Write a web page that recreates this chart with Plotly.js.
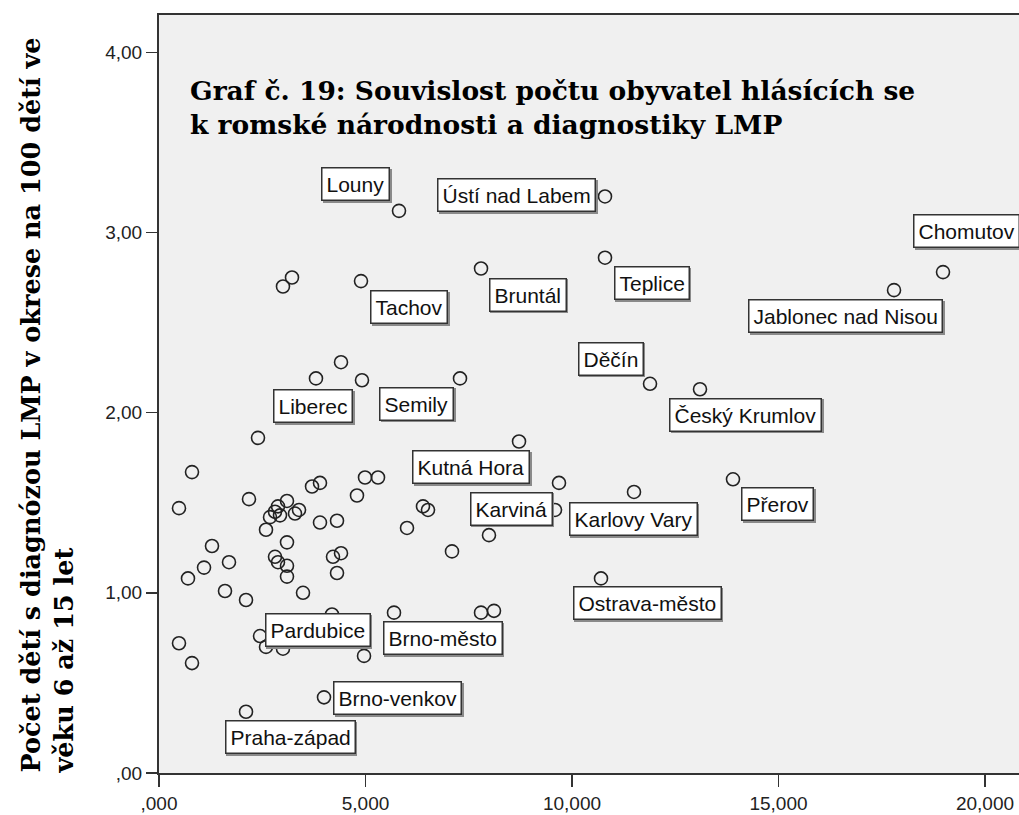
<!DOCTYPE html>
<html>
<head>
<meta charset="utf-8">
<script src="https://cdn.plot.ly/plotly-3.0.1.min.js"></script>
<style>html,body{margin:0;padding:0;background:#fff;}#chart{width:1019px;height:815px;}</style>
</head>
<body>
<div id="chart"></div>
<script>
// ---------- DATA ----------
const romaPer1000 = [5.811,10.799,18.983,17.797,10.799,7.797,4.891,3.002,3.220,11.889,13.099,7.288,4.407,3.801,4.915,2.397,8.717,13.898,11.501,9.685,9.588,5.303,4.988,4.794,3.705,3.898,0.799,0.484,2.179,3.099,2.881,2.809,2.688,2.930,3.293,3.390,2.591,3.898,4.310,6.005,6.392,6.513,7.990,7.094,1.283,1.695,1.090,0.702,3.099,2.809,2.881,3.099,3.099,4.213,4.407,4.310,1.598,2.107,3.487,10.702,5.690,7.797,8.111,4.189,2.446,2.591,3.002,4.964,0.484,0.799,3.995,2.107];
const lmpPer100 = [3.12,3.20,2.78,2.68,2.86,2.80,2.73,2.70,2.75,2.16,2.13,2.19,2.28,2.19,2.18,1.86,1.84,1.63,1.56,1.61,1.46,1.64,1.64,1.54,1.59,1.61,1.67,1.47,1.52,1.51,1.48,1.45,1.42,1.43,1.44,1.46,1.35,1.39,1.40,1.36,1.48,1.46,1.32,1.23,1.26,1.17,1.14,1.08,1.28,1.20,1.17,1.15,1.09,1.20,1.22,1.11,1.01,0.96,1.00,1.08,0.89,0.89,0.90,0.88,0.76,0.70,0.69,0.65,0.72,0.61,0.42,0.34];
const districtLabels = ["Louny","Ústí nad Labem","Chomutov","Jablonec nad Nisou","Teplice","Bruntál","Tachov","","","Děčín","Český Krumlov","Semily","","","Liberec","","Kutná Hora","Přerov","Karlovy Vary","","Karviná","","","","","","","","","","","","","","","","","","","","","","","","","","","","","","","","","","","","","","","Ostrava-město","Brno-město","","","","","","","Pardubice","","","Brno-venkov","Praha-západ"];
const xTickVals = [0,5,10,15,20];
const xTickText = [",000","5,000","10,000","15,000","20,000"];
const yTickVals = [0,1,2,3,4];
const yTickText = [",00","1,00","2,00","3,00","4,00"];
const chartTitle = "Graf č. 19: Souvislost počtu obyvatel hlásících se<br>k romské národnosti a diagnostiky LMP";
const yTitle = "Počet dětí s diagnózou LMP v okrese na 100 dětí ve<br>věku 6 až 15 let";

// ---------- LABEL PLACEMENT (pixel offsets from each point) ----------
const labelPlacement = {
  "Louny":["center",-43.5,26.5],
  "Ústí nad Labem":["right",-9,1],
  "Chomutov":["center",23.5,41],
  "Jablonec nad Nisou":["center",-48.5,-26],
  "Teplice":["center",46.5,-25.5],
  "Bruntál":["center",46.5,-26],
  "Tachov":["center",48,-26],
  "Děčín":["center",-39.5,25],
  "Český Krumlov":["center",45.5,-25.5],
  "Semily":["center",-43.5,-25.5],
  "Liberec":["center",-48.5,-26],
  "Kutná Hora":["center",-48,-26],
  "Karviná":["right",-2,1],
  "Karlovy Vary":["center",-1,-27.5],
  "Přerov":["center",45,-25],
  "Ostrava-město":["center",46,-25],
  "Brno-město":["center",48.5,-25.5],
  "Pardubice":["center",-46.5,25.5],
  "Brno-venkov":["left",9,-1],
  "Praha-západ":["center",44,-25.5]
};

const labelFont = {family:"Liberation Sans, Arial, sans-serif", size:21, color:"#111"};
const annotations = [];
districtLabels.forEach((name,i)=>{
  if(!name) return;
  const p = labelPlacement[name];
  // soft drop shadow
  annotations.push({
    x: romaPer1000[i], y: lmpPer100[i], xref:'x', yref:'y',
    text: name, showarrow:false, font: Object.assign({}, labelFont, {color:'rgba(0,0,0,0)'}),
    xanchor: p[0], yanchor:'middle', xshift: p[1]+1.5, yshift: p[2]-1.5,
    bgcolor:'#8a8a8a', bordercolor:'#8a8a8a', borderwidth:1.5, borderpad:4
  });
  annotations.push({
    x: romaPer1000[i], y: lmpPer100[i], xref:'x', yref:'y',
    text: name, showarrow:false, font: labelFont,
    xanchor: p[0], yanchor:'middle', xshift: p[1], yshift: p[2],
    bgcolor:'#ffffff', bordercolor:'#333333', borderwidth:1.5, borderpad:4
  });
});
annotations.push({
  xref:'paper', yref:'paper', x:0.034, y:0.924, xanchor:'left', yanchor:'top',
  text: chartTitle, showarrow:false, align:'left',
  font:{family:"DejaVu Serif, serif", size:26.5, color:"#000", weight:'bold'}
});
annotations.push({
  xref:'paper', yref:'paper', x:-0.13, y:-0.003, xanchor:'center', yanchor:'bottom',
  text: yTitle, showarrow:false, align:'left', textangle:-90,
  font:{family:"DejaVu Serif, serif", size:25.5, color:"#000", weight:'bold'}
});

const trace = {
  type:'scatter', mode:'markers', x: romaPer1000, y: lmpPer100,
  marker:{symbol:'circle-open', size:13, color:'#222', line:{width:1.6, color:'#222'}},
  hoverinfo:'skip', showlegend:false
};

const tickFont = {family:"Liberation Sans, Arial, sans-serif", size:19, color:"#222"};
const layout = {
  width:1019, height:815,
  margin:{l:159, r:0, t:15, b:42},
  paper_bgcolor:'#ffffff', plot_bgcolor:'#f0f0f0',
  xaxis:{range:[0,20.823], tickvals:xTickVals, ticktext:xTickText, ticks:'outside', ticklen:12, tickwidth:1.5, tickcolor:'#333',
         showline:true, linecolor:'#333', linewidth:2, mirror:true, showgrid:false, zeroline:false, tickfont:tickFont, fixedrange:true},
  yaxis:{range:[0,4.207], tickvals:yTickVals, ticktext:yTickText, ticks:'outside', ticklen:11, tickwidth:1.5, tickcolor:'#333',
         showline:true, linecolor:'#333', linewidth:2, mirror:false, showgrid:false, zeroline:false, tickfont:tickFont, fixedrange:true},
  annotations: annotations
};
Plotly.newPlot('chart',[trace],layout,{staticPlot:true,displayModeBar:false});
</script>
</body>
</html>
